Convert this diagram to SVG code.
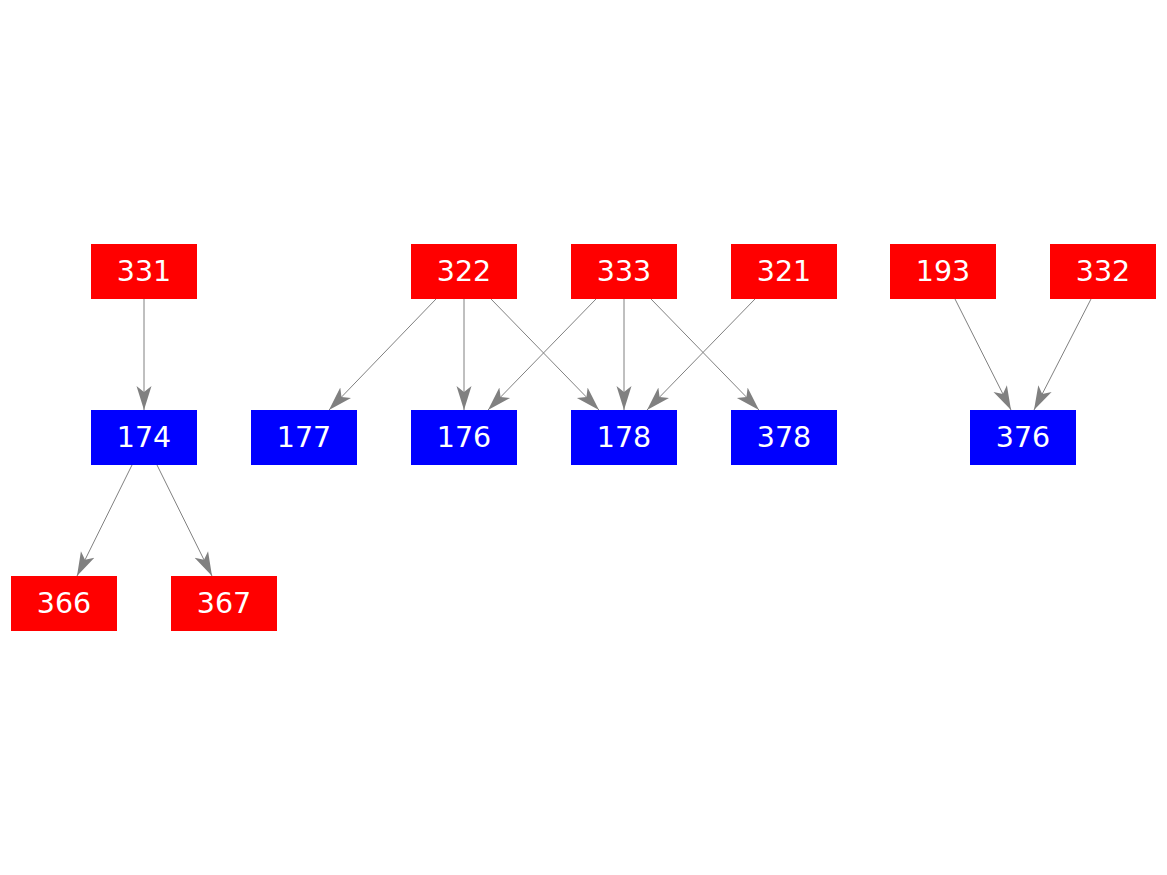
<svg xmlns="http://www.w3.org/2000/svg" width="1167" height="875" viewBox="0 0 1167 875">
<style>
.r{fill:#ff0000}
.b{fill:#0000ff}
.t{fill:#ffffff;font-family:"DejaVu Sans",sans-serif;font-size:28.5px;text-anchor:middle}
.e{stroke:#808080;stroke-width:1;fill:none;marker-end:url(#a)}
</style>
<defs>
<marker id="a" markerUnits="userSpaceOnUse" markerWidth="30" markerHeight="20" refX="24" refY="8" orient="auto" viewBox="0 0 30 20">
<path d="M0,0.5 L24,8 L0,15.5 L6,8 Z" fill="#808080"/>
</marker>
</defs>
<rect width="1167" height="875" fill="#ffffff"/>
<g id="edges">
<line class="e" x1="144" y1="299" x2="144" y2="410"/>
<line class="e" x1="132" y1="465" x2="77" y2="576"/>
<line class="e" x1="157" y1="465" x2="212" y2="576"/>
<line class="e" x1="436" y1="299" x2="329" y2="410"/>
<line class="e" x1="464" y1="299" x2="464" y2="410"/>
<line class="e" x1="491" y1="299" x2="599" y2="410"/>
<line class="e" x1="596" y1="299" x2="488" y2="410"/>
<line class="e" x1="624" y1="299" x2="624" y2="410"/>
<line class="e" x1="651" y1="299" x2="759" y2="410"/>
<line class="e" x1="755" y1="299" x2="647" y2="410"/>
<line class="e" x1="955" y1="299" x2="1011" y2="410"/>
<line class="e" x1="1091" y1="299" x2="1034" y2="410"/>
</g>
<g id="n331"><rect class="r" x="91" y="244" width="106" height="55"/><text class="t" x="144" y="281">331</text></g>
<g id="n322"><rect class="r" x="411" y="244" width="106" height="55"/><text class="t" x="464" y="281">322</text></g>
<g id="n333"><rect class="r" x="571" y="244" width="106" height="55"/><text class="t" x="624" y="281">333</text></g>
<g id="n321"><rect class="r" x="731" y="244" width="106" height="55"/><text class="t" x="784" y="281">321</text></g>
<g id="n193"><rect class="r" x="890" y="244" width="106" height="55"/><text class="t" x="943" y="281">193</text></g>
<g id="n332"><rect class="r" x="1050" y="244" width="106" height="55"/><text class="t" x="1103" y="281">332</text></g>
<g id="n174"><rect class="b" x="91" y="410" width="106" height="55"/><text class="t" x="144" y="447">174</text></g>
<g id="n177"><rect class="b" x="251" y="410" width="106" height="55"/><text class="t" x="304" y="447">177</text></g>
<g id="n176"><rect class="b" x="411" y="410" width="106" height="55"/><text class="t" x="464" y="447">176</text></g>
<g id="n178"><rect class="b" x="571" y="410" width="106" height="55"/><text class="t" x="624" y="447">178</text></g>
<g id="n378"><rect class="b" x="731" y="410" width="106" height="55"/><text class="t" x="784" y="447">378</text></g>
<g id="n376"><rect class="b" x="970" y="410" width="106" height="55"/><text class="t" x="1023" y="447">376</text></g>
<g id="n366"><rect class="r" x="11" y="576" width="106" height="55"/><text class="t" x="64" y="613">366</text></g>
<g id="n367"><rect class="r" x="171" y="576" width="106" height="55"/><text class="t" x="224" y="613">367</text></g>
</svg>
